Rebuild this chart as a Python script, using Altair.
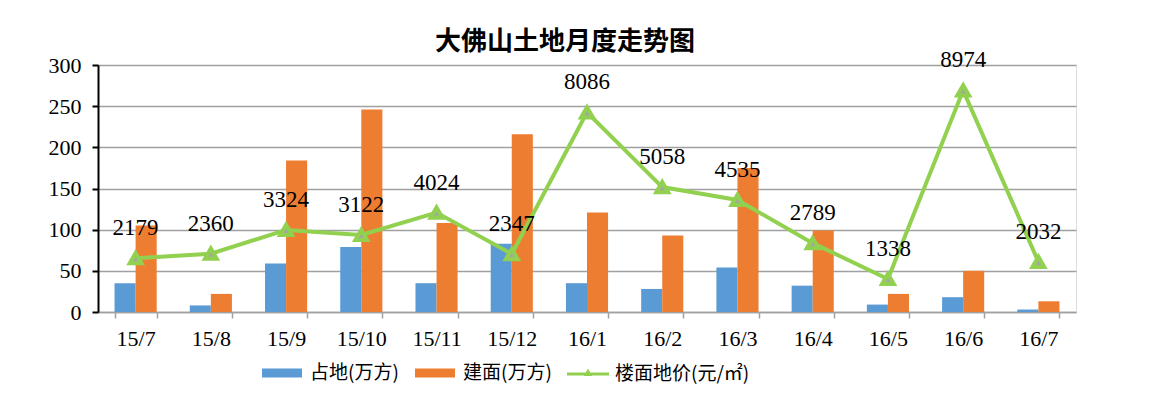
import altair as alt
import pandas as pd

months = ["15/7", "15/8", "15/9", "15/10", "15/11", "15/12", "16/1",
          "16/2", "16/3", "16/4", "16/5", "16/6", "16/7"]
land = [35, 8, 59, 79, 35, 83, 35, 28, 54, 32, 9, 18, 3]
floor_area = [105, 22, 184, 246, 108, 216, 121, 93, 175, 99, 22, 50, 13]
price = [2179, 2360, 3324, 3122, 4024, 2347, 8086, 5058, 4535, 2789, 1338, 8974, 2032]
bar_series = ["占地(万方)", "建面(万方)"]
line_series = "楼面地价(元/㎡)"
left_ticks = [0, 50, 100, 150, 200, 250, 300]
right_ticks = [0, 2000, 4000, 6000, 8000, 10000]

BLUE = "#5B9BD5"
ORANGE = "#ED7D31"
GREEN = "#92D050"
SERIF = "Liberation Serif"
CJK = "Noto Sans CJK SC"

bars_df = pd.DataFrame({
    "month": months * 2,
    "series": [bar_series[0]] * len(months) + [bar_series[1]] * len(months),
    "value": land + floor_area,
})
line_df = pd.DataFrame({"month": months, "price": price, "name": [line_series] * len(months)})

x_enc = alt.X(
    "month:N", sort=months,
    scale=alt.Scale(paddingInner=0.44, paddingOuter=0.22),
    axis=alt.Axis(title=None, labelAngle=0, tickBand="extent", domainColor="#a0a0a0",
                  domainWidth=1.5, tickColor="#a0a0a0", tickWidth=1.5, tickSize=6,
                  labelPadding=10, labelFont=SERIF, labelFontSize=22, labelColor="#000"),
)

bars = alt.Chart(bars_df).mark_bar().encode(
    x=x_enc,
    xOffset=alt.XOffset("series:N", sort=bar_series),
    y=alt.Y("value:Q", scale=alt.Scale(domain=[0, 300], nice=False),
            axis=alt.Axis(title=None, values=left_ticks, grid=True, gridColor="#a0a0a0",
                          gridWidth=1.5, domainColor="#000", domainWidth=2, tickColor="#000",
                          tickWidth=2, tickSize=6, labelPadding=11, labelFont=SERIF,
                          labelFontSize=22, labelColor="#000")),
    color=alt.Color("series:N", sort=bar_series,
                    scale=alt.Scale(domain=bar_series, range=[BLUE, ORANGE]),
                    legend=alt.Legend(title=None, orient="none", legendX=164, legendY=288,
                                      direction="horizontal",
                                      symbolType="M-1,-0.225H1V0.225H-1Z", symbolSize=1600,
                                      symbolStrokeWidth=0, labelFont=CJK, labelFontSize=19,
                                      labelColor="#000", labelOffset=8, columnPadding=16)),
)

y_right = alt.Y("price:Q", scale=alt.Scale(domain=[0, 10000], nice=False),
                axis=alt.Axis(title=None, orient="right", values=right_ticks, grid=False,
                              domainColor="#000", domainWidth=2, tickColor="#000", tickWidth=2,
                              tickSize=6, labelPadding=14, labelFont=SERIF, labelFontSize=22,
                              labelColor="#000"))
y_right_noaxis = alt.Y("price:Q", scale=alt.Scale(domain=[0, 10000], nice=False), axis=None)

line = alt.Chart(line_df).mark_line(strokeWidth=4).encode(
    x=alt.X("month:N", sort=months),
    y=y_right,
    stroke=alt.Stroke("name:N", scale=alt.Scale(domain=[line_series], range=[GREEN]),
                      legend=alt.Legend(title=None, orient="none", legendX=469, legendY=288,
                                        symbolType="M-1,-0.07H1V0.07H-1Z M0,-0.26L0.2,0.1H-0.2Z",
                                        symbolSize=1764, symbolFillColor=GREEN,
                                        symbolStrokeWidth=0, labelFont=CJK, labelFontSize=19,
                                        labelColor="#000", labelOffset=6)),
)

points = alt.Chart(line_df).mark_point(shape="triangle-up", filled=True, fill="#a5a5a5",
                                        stroke=GREEN, strokeWidth=4, size=140,
                                        opacity=1).encode(
    x=alt.X("month:N", sort=months),
    y=y_right_noaxis,
)

labels = alt.Chart(line_df).mark_text(dy=-30, font=SERIF, fontSize=23, color="#000").encode(
    x=alt.X("month:N", sort=months),
    y=y_right_noaxis,
    text=alt.Text("price:Q", format="d"),
)

chart = alt.layer(bars, alt.layer(line, points, labels)).resolve_scale(
    y="independent"
).properties(
    width=978, height=247,
    autosize=alt.AutoSizeParams(type="none"),
    padding={"left": 90, "top": 57, "right": 88, "bottom": 87},
    title=alt.TitleParams("大佛山土地月度走势图", font=CJK, fontSize=26, fontWeight="bold",
                          color="#000", dx=-22, offset=-6),
).configure_view(stroke=None).configure(background="white")

chart.save("out.html", embed_options={"renderer": "svg", "actions": False})
